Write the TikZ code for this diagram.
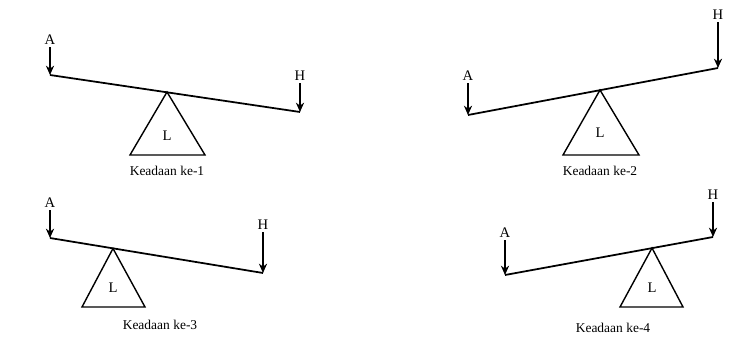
\documentclass[tikz,border=0pt]{standalone}
\usepackage{fontspec}
\setmainfont{Liberation Serif}
\usetikzlibrary{arrows.meta}

\begin{document}
\begin{tikzpicture}[x=0.03cm,y=-0.03cm,
  tuas/.style={line width=1.5pt},
  tumpu/.style={line width=1.2pt,line join=miter},
  beban/.style={-{Stealth[length=8pt,width=7pt]},line width=1.2pt,shorten <=1pt},
  huruf/.style={font=\fontsize{12.5}{14}\selectfont,inner sep=1pt},
  judul/.style={font=\fontsize{11.5}{13}\selectfont,inner sep=1pt}]
\useasboundingbox (0,0) rectangle (738,348);
% Keadaan ke-1: A tinggi, H rendah
\coordinate (a1) at (50,75);
\coordinate (h1) at (300,112);
\coordinate (p1) at (167,92);
\draw[tuas] (a1) -- (h1);
\draw[tumpu] (p1) -- (130,155) -- (205,155) -- cycle;
\node[huruf] (l1) at (167,136) {L};
\node[huruf] (ka1) at (50,40) {A};
\node[huruf] (kh1) at (300,76) {H};
\draw[beban] (ka1) -- (a1);
\draw[beban] (kh1) -- (h1);
\node[judul] (t1) at (167,171) {Keadaan ke-1};
% Keadaan ke-2: A rendah, H tinggi
\coordinate (a2) at (468,115);
\coordinate (h2) at (718,68);
\coordinate (p2) at (600,90);
\draw[tuas] (a2) -- (h2);
\draw[tumpu] (p2) -- (563,155) -- (639,155) -- cycle;
\node[huruf] (l2) at (600,133) {L};
\node[huruf] (ka2) at (468,76) {A};
\node[huruf] (kh2) at (718,15) {H};
\draw[beban] (ka2) -- (a2);
\draw[beban] (kh2) -- (h2);
\node[judul] (t2) at (600,171) {Keadaan ke-2};
% Keadaan ke-3: tumpuan dekat A
\coordinate (a3) at (50,238);
\coordinate (h3) at (263,273);
\coordinate (p3) at (113,248.5);
\draw[tuas] (a3) -- (h3);
\draw[tumpu] (p3) -- (82,307) -- (145,307) -- cycle;
\node[huruf] (l3) at (113,288) {L};
\node[huruf] (ka3) at (50,203) {A};
\node[huruf] (kh3) at (263,225) {H};
\draw[beban] (ka3) -- (a3);
\draw[beban] (kh3) -- (h3);
\node[judul] (t3) at (160,325) {Keadaan ke-3};
% Keadaan ke-4: tumpuan dekat H
\coordinate (a4) at (505,275);
\coordinate (h4) at (713,237);
\coordinate (p4) at (652,248);
\draw[tuas] (a4) -- (h4);
\draw[tumpu] (p4) -- (620,307) -- (683,307) -- cycle;
\node[huruf] (l4) at (652,288) {L};
\node[huruf] (ka4) at (505,233) {A};
\node[huruf] (kh4) at (713,195) {H};
\draw[beban] (ka4) -- (a4);
\draw[beban] (kh4) -- (h4);
\node[judul] (t4) at (613,328) {Keadaan ke-4};
\end{tikzpicture}
\end{document}
